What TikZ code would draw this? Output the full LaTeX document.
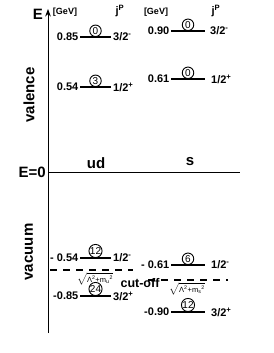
\documentclass[tikz,border=0pt]{standalone}
\usepackage{fontspec}
\setmainfont{Liberation Sans}
\usetikzlibrary{arrows.meta, positioning, calc}

\begin{document}
\begin{tikzpicture}[x=1pt, y=-1pt, >=Stealth,
    lvl/.style={line width=1.2pt},
    cnum/.style={circle, draw, line width=0.9pt, inner sep=0pt, minimum size=11.5pt,
                 anchor=south, font=\fontsize{10}{10}\selectfont},
    val/.style={inner sep=1.5pt, font=\bfseries\fontsize{11}{11}\selectfont},
    jp/.style={inner sep=2pt, font=\bfseries\fontsize{11}{11}\selectfont},
    big/.style={font=\bfseries\fontsize{15}{15}\selectfont},
    cutline/.style={line width=2.6pt, dash pattern=on 7pt off 6pt},
    lam/.style={inner sep=0pt, font=\fontsize{7.5}{7.5}\selectfont}]

    % fester Rahmen
    \useasboundingbox (0,0) rectangle (273,353);

    % Parameter
    \def\ax{48}      % x der Energieachse
    \def\lxa{80}     % linke Niveaus
    \def\lxb{111}
    \def\rxa{171}    % rechte Niveaus
    \def\rxb{205}

    % 1. Achse und E=0
    \coordinate (bot) at (\ax,333);
    \coordinate (top) at (\ax,9);
    \coordinate (zero) at (\ax,172);
    \coordinate (zeroend) at (240,172);
    \draw[line width=1pt, ->] (bot) -- (top);
    \draw[line width=1pt] (zero) -- (zeroend);
    \node[big, inner sep=0pt] (E) at (38,14) {E};
    \node[big, inner sep=0pt, left=2pt of zero] (Ezero) {E=0};
    \node[big, inner sep=0pt] (ud) at (96,163) {ud};
    \node[big, inner sep=0pt] (s) at (190,162) {s};
    \node[big, inner sep=0pt, rotate=90] (valence) at (29,95) {valence};
    \node[big, inner sep=0pt, rotate=90] (vacuum) at (29,252) {vacuum};

    % 2. Kopfzeilen
    \node[font=\bfseries\fontsize{9}{9}\selectfont, inner sep=0pt] (gevL) at (65,12) {[GeV]};
    \node[font=\bfseries\fontsize{9}{9}\selectfont, inner sep=0pt] (gevR) at (156,12) {[GeV]};
    \node[jp, inner sep=0pt] (jpL) at (120,11) {j\textsuperscript{P}};
    \node[jp, inner sep=0pt] (jpR) at (216,11) {j\textsuperscript{P}};

    % 3. Valenzniveaus
    \coordinate (a1) at (\lxa,37);  \coordinate (b1) at (\lxb,37);
    \draw[lvl] (a1) -- (b1);
    \node[cnum] (c1) at ($(a1)!0.5!(b1)$) {0};
    \node[val, left=0pt of a1] (v1) {0.85};
    \node[jp, right=0pt of b1] (j1) {3/2\textsuperscript{-}};

    \coordinate (a2) at (\lxa,87);  \coordinate (b2) at (\lxb,87);
    \draw[lvl] (a2) -- (b2);
    \node[cnum] (c2) at ($(a2)!0.5!(b2)$) {3};
    \node[val, left=0pt of a2] (v2) {0.54};
    \node[jp, right=0pt of b2] (j2) {1/2\textsuperscript{+}};

    \coordinate (a3) at (\rxa,31);  \coordinate (b3) at (\rxb,31);
    \draw[lvl] (a3) -- (b3);
    \node[cnum] (c3) at ($(a3)!0.5!(b3)$) {0};
    \node[val, left=0pt of a3] (v3) {0.90};
    \node[jp, right=3pt of b3] (j3) {3/2\textsuperscript{-}};

    \coordinate (a4) at (\rxa,79);  \coordinate (b4) at (\rxb,79);
    \draw[lvl] (a4) -- (b4);
    \node[cnum] (c4) at ($(a4)!0.5!(b4)$) {0};
    \node[val, left=0pt of a4] (v4) {0.61};
    \node[jp, right=4pt of b4] (j4) {1/2\textsuperscript{+}};

    % 4. Vakuumniveaus
    \coordinate (a5) at (\lxa,258);  \coordinate (b5) at (\lxb,258);
    \draw[lvl] (a5) -- (b5);
    \node[cnum] (c5) at ($(a5)!0.5!(b5)$) {12};
    \node[val, left=0pt of a5] (v5) {- 0.54};
    \node[jp, right=0pt of b5] (j5) {1/2\textsuperscript{-}};

    \coordinate (a6) at (\lxa,296);  \coordinate (b6) at (\lxb,296);
    \draw[lvl] (a6) -- (b6);
    \node[cnum] (c6) at ($(a6)!0.5!(b6)$) {24};
    \node[val, left=0pt of a6] (v6) {-0.85};
    \node[jp, right=0pt of b6] (j6) {3/2\textsuperscript{+}};

    \coordinate (a7) at (\rxa,265);  \coordinate (b7) at (\rxb,265);
    \draw[lvl] (a7) -- (b7);
    \node[cnum] (c7) at ($(a7)!0.5!(b7)$) {6};
    \node[val, left=0pt of a7] (v7) {- 0.61};
    \node[jp, right=4pt of b7] (j7) {1/2\textsuperscript{-}};

    \coordinate (a8) at (\rxa,312);  \coordinate (b8) at (\rxb,312);
    \draw[lvl] (a8) -- (b8);
    \node[cnum] (c8) at ($(a8)!0.5!(b8)$) {12};
    \node[val, left=0pt of a8] (v8) {-0.90};
    \node[jp, right=4pt of b8] (j8) {3/2\textsuperscript{+}};

    % 5. cut-off
    \coordinate (cua) at (50,270);  \coordinate (cub) at (133,270);
    \coordinate (csa) at (148,280); \coordinate (csb) at (228,280);
    \draw[cutline] (cua) -- (cub);
    \draw[cutline] (csa) -- (csb);
    \node[lam] (squ) at (95,279) {$\sqrt{\mbox{Λ\textsuperscript{2}+m\textsubscript{u}\textsuperscript{2}}}$};
    \node[lam] (sqs) at (187,289) {$\sqrt{\mbox{Λ\textsuperscript{2}+m\textsubscript{s}\textsuperscript{2}}}$};
    \node[font=\bfseries\fontsize{12.5}{12.5}\selectfont, inner sep=0pt] (cut) at (140,283) {cut-off};

\end{tikzpicture}
\end{document}
